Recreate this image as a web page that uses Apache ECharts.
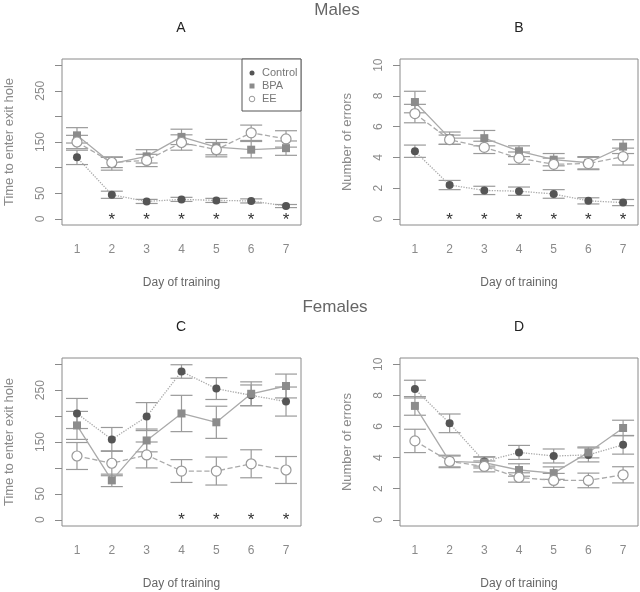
<!DOCTYPE html>
<html><head><meta charset="utf-8">
<script src="https://cdn.jsdelivr.net/npm/echarts@6/dist/echarts.min.js"></script>
<style>html,body{margin:0;background:#fff}#c{width:640px;height:592px}</style>
</head><body><div id="c"></div>
<script>
const days = [1, 2, 3, 4, 5, 6, 7];
const timeTicks = [0, 50, 100, 150, 200, 250, 300];
const timeTickLabels = [0, 50, 150, 250];
const errTicks = [0, 2, 4, 6, 8, 10];

// Males - time to enter exit hole
const maleTimeControl = [120, 47, 34, 38, 36, 35, 25];
const maleTimeControlSE = [14, 7, 4, 4, 4, 4, 3];
const maleTimeBPA = [163, 108, 122, 160, 140, 135, 138];
const maleTimeBPASE = [15, 13, 13, 15, 15, 16, 14];
const maleTimeEE = [150, 110, 114, 149, 135, 168, 156];
const maleTimeEESE = [13, 10, 12, 15, 14, 15, 16];
// Males - number of errors
const maleErrControl = [4.4, 2.2, 1.85, 1.8, 1.62, 1.17, 1.06];
const maleErrControlSE = [0.4, 0.3, 0.27, 0.27, 0.28, 0.2, 0.2];
const maleErrBPA = [7.6, 5.25, 5.25, 4.4, 3.85, 3.65, 4.7];
const maleErrBPASE = [0.7, 0.4, 0.5, 0.35, 0.4, 0.4, 0.45];
const maleErrEE = [6.85, 5.15, 4.65, 3.95, 3.55, 3.6, 4.05];
const maleErrEESE = [0.6, 0.3, 0.4, 0.4, 0.4, 0.4, 0.55];
// Females - time to enter exit hole
const femTimeControl = [205, 155, 199, 286, 253, 240, 228];
const femTimeControlSE = [29, 23, 27, 13, 21, 20, 28];
const femTimeBPA = [182, 76, 153, 205, 188, 243, 258];
const femTimeBPASE = [27, 12, 22, 35, 31, 23, 23];
const femTimeEE = [123, 109, 125, 94, 94, 108, 96];
const femTimeEESE = [26, 24, 25, 22, 27, 27, 26];
// Females - number of errors
const femErrControl = [8.4, 6.2, 3.75, 4.33, 4.1, 4.17, 4.82];
const femErrControlSE = [0.57, 0.6, 0.3, 0.45, 0.45, 0.45, 0.6];
const femErrBPA = [7.32, 3.75, 3.68, 3.2, 3.0, 4.33, 5.9];
const femErrBPASE = [0.6, 0.4, 0.35, 0.4, 0.4, 0.35, 0.5];
const femErrEE = [5.07, 3.75, 3.43, 2.72, 2.53, 2.53, 2.89];
const femErrEESE = [0.75, 0.35, 0.35, 0.3, 0.45, 0.47, 0.52];
// Significant days (asterisks)
const sigDaysA = [2, 3, 4, 5, 6, 7];
const sigDaysB = [2, 3, 4, 5, 6, 7];
const sigDaysC = [4, 5, 6, 7];
const sigDaysD = [];

const FONT = '"Liberation Sans", Arial, sans-serif';
const panels = [
  {left: 62, top: 59, width: 239, height: 166, ymax: 300, ticks: timeTicks, labels: timeTickLabels, name: 'Time to enter exit hole',
   c: maleTimeControl, cs: maleTimeControlSE, b: maleTimeBPA, bs: maleTimeBPASE, e: maleTimeEE, es: maleTimeEESE, sig: sigDaysA},
  {left: 400, top: 59, width: 238, height: 166, ymax: 10, ticks: errTicks, labels: errTicks, name: 'Number of errors',
   c: maleErrControl, cs: maleErrControlSE, b: maleErrBPA, bs: maleErrBPASE, e: maleErrEE, es: maleErrEESE, sig: sigDaysB},
  {left: 62, top: 358, width: 239, height: 168, ymax: 300, ticks: timeTicks, labels: timeTickLabels, name: 'Time to enter exit hole',
   c: femTimeControl, cs: femTimeControlSE, b: femTimeBPA, bs: femTimeBPASE, e: femTimeEE, es: femTimeEESE, sig: sigDaysC},
  {left: 400, top: 358, width: 238, height: 168, ymax: 10, ticks: errTicks, labels: errTicks, name: 'Number of errors',
   c: femErrControl, cs: femErrControlSE, b: femErrBPA, bs: femErrBPASE, e: femErrEE, es: femErrEESE, sig: sigDaysD}
];

const grid = [], xAxis = [], yAxis = [], series = [];
const ERR = '#9a9a9a', LINE = '#aaaaaa';

function errSeries(i, mean, se) {
  return {
    type: 'custom', xAxisIndex: i, yAxisIndex: i, silent: true, z: 2,
    data: days.map((d, k) => [d, mean[k] - se[k], mean[k] + se[k]]),
    encode: {x: 0, y: [1, 2]},
    renderItem: (params, api) => {
      const lo = api.coord([api.value(0), api.value(1)]);
      const hi = api.coord([api.value(0), api.value(2)]);
      const w = 11;
      const st = {stroke: ERR, lineWidth: 1.2};
      return {type: 'group', children: [
        {type: 'line', shape: {x1: lo[0], y1: lo[1], x2: hi[0], y2: hi[1]}, style: st},
        {type: 'line', shape: {x1: lo[0] - w, y1: lo[1], x2: lo[0] + w, y2: lo[1]}, style: st},
        {type: 'line', shape: {x1: hi[0] - w, y1: hi[1], x2: hi[0] + w, y2: hi[1]}, style: st}
      ]};
    }
  };
}

panels.forEach((p, i) => {
  grid.push({left: p.left, top: p.top, width: p.width, height: p.height, show: true, borderColor: '#8a8a8a', borderWidth: 1, backgroundColor: 'transparent'});
  xAxis.push({
    gridIndex: i, type: 'value', min: 0.57, max: 7.43,
    axisLine: {show: false, onZero: false}, axisTick: {show: false}, splitLine: {show: false},
    axisLabel: {customValues: days, margin: 19, color: '#8a8a8a', fontSize: 12, fontFamily: FONT},
    name: 'Day of training', nameLocation: 'middle', nameGap: 52,
    nameTextStyle: {color: '#666', fontSize: 12, fontFamily: FONT}
  });
  yAxis.push({
    gridIndex: i, type: 'value', min: -0.04 * p.ymax, max: 1.04 * p.ymax,
    axisLine: {show: false, onZero: false}, splitLine: {show: false},
    axisTick: {show: true, length: 7, customValues: p.ticks, lineStyle: {color: '#8a8a8a'}},
    axisLabel: {customValues: p.labels, rotate: 90, margin: 15, color: '#8a8a8a', fontSize: 12, fontFamily: FONT},
    name: p.name, nameLocation: 'middle', nameGap: 46,
    nameTextStyle: {color: '#8a8a8a', fontSize: 13, fontFamily: FONT}
  });
  series.push(errSeries(i, p.c, p.cs), errSeries(i, p.b, p.bs), errSeries(i, p.e, p.es));
  series.push({
    name: 'Control', type: 'line', xAxisIndex: i, yAxisIndex: i, z: 3,
    data: days.map((d, k) => [d, p.c[k]]), symbol: 'circle', symbolSize: 8,
    lineStyle: {color: LINE, type: 'dotted', width: 1.3}, itemStyle: {color: '#555'}
  });
  series.push({
    name: 'BPA', type: 'line', xAxisIndex: i, yAxisIndex: i, z: 3,
    data: days.map((d, k) => [d, p.b[k]]), symbol: 'rect', symbolSize: 8,
    lineStyle: {color: LINE, type: 'solid', width: 1.3}, itemStyle: {color: '#8c8c8c'}
  });
  series.push({
    name: 'EE', type: 'line', xAxisIndex: i, yAxisIndex: i, z: 3,
    data: days.map((d, k) => [d, p.e[k]]), symbol: 'circle', symbolSize: 10,
    lineStyle: {color: LINE, type: 'dashed', width: 1.3},
    itemStyle: {color: '#fff', borderColor: '#999', borderWidth: 1.2}
  });
  series.push({
    type: 'custom', xAxisIndex: i, yAxisIndex: i, silent: true, z: 4,
    data: p.sig.map(d => [d, 0]),
    encode: {x: 0, y: 1},
    renderItem: (params, api) => {
      const pt = api.coord([api.value(0), api.value(1)]);
      return {type: 'text', x: pt[0], y: pt[1] + 1,
        style: {text: '*', fontSize: 17, fill: '#333', align: 'center', verticalAlign: 'middle', fontFamily: FONT}};
    }
  });
});

const txt = (x, y, t, size, color) => ({type: 'text', x, y, silent: true,
  style: {text: t, fontSize: size, fill: color, align: 'center', verticalAlign: 'middle', fontFamily: FONT}});

const graphic = [
  txt(337, 10, 'Males', 17, '#666'),
  txt(335, 307, 'Females', 17, '#666'),
  txt(181, 28, 'A', 14, '#222'),
  txt(519, 28, 'B', 14, '#222'),
  txt(181, 327, 'C', 14, '#222'),
  txt(519, 327, 'D', 14, '#222'),
  {type: 'rect', shape: {x: 242, y: 59, width: 59, height: 52}, style: {fill: '#fff', stroke: '#555', lineWidth: 1}, z: 10},
  {type: 'circle', shape: {cx: 252, cy: 73, r: 2.5}, style: {fill: '#555'}, z: 11},
  {type: 'rect', shape: {x: 249.5, y: 83.5, width: 5, height: 5}, style: {fill: '#8c8c8c'}, z: 11},
  {type: 'circle', shape: {cx: 252, cy: 99, r: 2.8}, style: {fill: '#fff', stroke: '#999', lineWidth: 1}, z: 11},
  {type: 'text', x: 262, y: 73, z: 11, style: {text: 'Control', fontSize: 11, fill: '#777', verticalAlign: 'middle', fontFamily: FONT}},
  {type: 'text', x: 262, y: 86, z: 11, style: {text: 'BPA', fontSize: 11, fill: '#777', verticalAlign: 'middle', fontFamily: FONT}},
  {type: 'text', x: 262, y: 99, z: 11, style: {text: 'EE', fontSize: 11, fill: '#777', verticalAlign: 'middle', fontFamily: FONT}}
];

const chart = echarts.init(document.getElementById('c'));
chart.setOption({animation: false, backgroundColor: '#fff', grid, xAxis, yAxis, series, graphic});
</script></body></html>
